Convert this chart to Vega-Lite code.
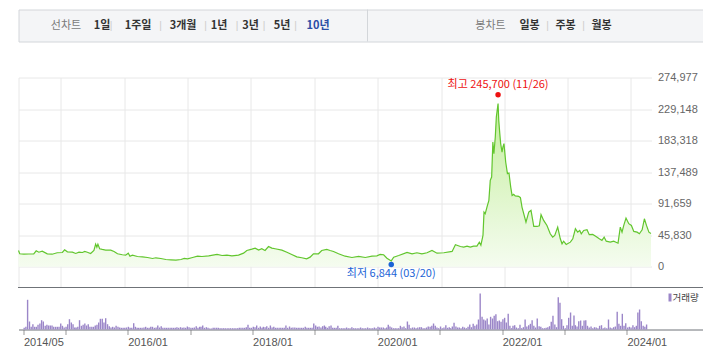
{
  "$schema": "https://vega.github.io/schema/vega-lite/v6.json",
  "padding": {"left": 15.5, "top": 8.5, "right": 0, "bottom": 0},
  "background": "white",
  "config": {"view": {"stroke": null}, "font": "Noto Sans CJK KR"},
  "datasets": {
    "tabs": [
      {"token": "선차트", "text": "선차트", "group": "line", "role": "title"},
      {"token": "1일", "text": "1일", "group": "line", "role": "item"},
      {"token": "s1", "text": "|", "group": "line", "role": "sep"},
      {"token": "1주일", "text": "1주일", "group": "line", "role": "item"},
      {"token": "s2", "text": "|", "group": "line", "role": "sep"},
      {"token": "3개월", "text": "3개월", "group": "line", "role": "item"},
      {"token": "s3", "text": "|", "group": "line", "role": "sep"},
      {"token": "1년", "text": "1년", "group": "line", "role": "item"},
      {"token": "s4", "text": "|", "group": "line", "role": "sep"},
      {"token": "3년", "text": "3년", "group": "line", "role": "item"},
      {"token": "s5", "text": "|", "group": "line", "role": "sep"},
      {"token": "5년", "text": "5년", "group": "line", "role": "item"},
      {"token": "s6", "text": "|", "group": "line", "role": "sep"},
      {"token": "10년", "text": "10년", "group": "line", "role": "active"},
      {"token": "divider", "text": "", "group": "candle", "role": "divider"},
      {"token": "봉차트", "text": "봉차트", "group": "candle", "role": "title"},
      {"token": "일봉", "text": "일봉", "group": "candle", "role": "item"},
      {"token": "t1", "text": "|", "group": "candle", "role": "sep"},
      {"token": "주봉", "text": "주봉", "group": "candle", "role": "item"},
      {"token": "t2", "text": "|", "group": "candle", "role": "sep"},
      {"token": "월봉", "text": "월봉", "group": "candle", "role": "item"}
    ],
    "price": [
      {"date": "2014-05-01", "price": 23700}, {"date": "2014-05-08", "price": 18900}, {"date": "2014-06-01", "price": 18300}, {"date": "2014-06-29", "price": 18600},
      {"date": "2014-07-28", "price": 18900}, {"date": "2014-08-11", "price": 23300}, {"date": "2014-08-26", "price": 21200}, {"date": "2014-09-15", "price": 22700},
      {"date": "2014-10-14", "price": 18900}, {"date": "2014-11-11", "price": 18300}, {"date": "2014-12-10", "price": 20400}, {"date": "2015-01-09", "price": 20800},
      {"date": "2015-01-22", "price": 24700}, {"date": "2015-02-07", "price": 21800}, {"date": "2015-03-08", "price": 21200}, {"date": "2015-03-27", "price": 19400},
      {"date": "2015-04-15", "price": 21200}, {"date": "2015-05-05", "price": 20800}, {"date": "2015-05-18", "price": 22300}, {"date": "2015-06-02", "price": 21200},
      {"date": "2015-06-21", "price": 19400}, {"date": "2015-07-10", "price": 23700}, {"date": "2015-07-20", "price": 32900}, {"date": "2015-07-27", "price": 28500},
      {"date": "2015-08-02", "price": 32900}, {"date": "2015-08-12", "price": 26200}, {"date": "2015-08-27", "price": 25200}, {"date": "2015-09-16", "price": 24200},
      {"date": "2015-10-15", "price": 24200}, {"date": "2015-11-03", "price": 22300}, {"date": "2015-11-23", "price": 18900}, {"date": "2015-12-21", "price": 17500},
      {"date": "2016-01-09", "price": 16900}, {"date": "2016-01-24", "price": 19800}, {"date": "2016-02-03", "price": 15400}, {"date": "2016-02-17", "price": 16900},
      {"date": "2016-03-17", "price": 15000}, {"date": "2016-04-15", "price": 14500}, {"date": "2016-05-14", "price": 13500}, {"date": "2016-06-12", "price": 12100},
      {"date": "2016-07-01", "price": 13100}, {"date": "2016-07-30", "price": 12100}, {"date": "2016-08-28", "price": 10600}, {"date": "2016-09-26", "price": 10200},
      {"date": "2016-10-25", "price": 9600}, {"date": "2016-11-23", "price": 10600}, {"date": "2016-12-12", "price": 12100}, {"date": "2016-12-31", "price": 11600},
      {"date": "2017-01-29", "price": 13500}, {"date": "2017-02-27", "price": 15400}, {"date": "2017-03-24", "price": 15000}, {"date": "2017-05-02", "price": 16000},
      {"date": "2017-06-19", "price": 17900}, {"date": "2017-07-18", "price": 16400}, {"date": "2017-08-15", "price": 16900}, {"date": "2017-09-13", "price": 16000},
      {"date": "2017-10-21", "price": 16900}, {"date": "2017-11-19", "price": 19800}, {"date": "2017-12-08", "price": 23700}, {"date": "2018-01-06", "price": 25600},
      {"date": "2018-01-25", "price": 27100}, {"date": "2018-02-14", "price": 24200}, {"date": "2018-03-04", "price": 26200}, {"date": "2018-03-23", "price": 23700},
      {"date": "2018-04-12", "price": 29500}, {"date": "2018-05-01", "price": 27100}, {"date": "2018-05-20", "price": 26200}, {"date": "2018-06-28", "price": 24200},
      {"date": "2018-07-27", "price": 21200}, {"date": "2018-08-24", "price": 17900}, {"date": "2018-09-22", "price": 14500}, {"date": "2018-10-21", "price": 13100},
      {"date": "2018-11-18", "price": 11600}, {"date": "2018-12-08", "price": 14000}, {"date": "2018-12-27", "price": 18900}, {"date": "2019-01-25", "price": 18900},
      {"date": "2019-02-13", "price": 23700}, {"date": "2019-03-14", "price": 25200}, {"date": "2019-04-02", "price": 23700}, {"date": "2019-04-22", "price": 22300},
      {"date": "2019-05-21", "price": 18900}, {"date": "2019-06-28", "price": 15400}, {"date": "2019-08-06", "price": 13500}, {"date": "2019-09-14", "price": 15000},
      {"date": "2019-10-22", "price": 13500}, {"date": "2019-11-30", "price": 15400}, {"date": "2019-12-28", "price": 16000}, {"date": "2020-01-16", "price": 17900},
      {"date": "2020-02-05", "price": 17500}, {"date": "2020-02-24", "price": 12500}, {"date": "2020-03-20", "price": 8500}, {"date": "2020-04-03", "price": 14000},
      {"date": "2020-05-02", "price": 16400}, {"date": "2020-06-19", "price": 20800}, {"date": "2020-07-18", "price": 18900}, {"date": "2020-08-15", "price": 20400},
      {"date": "2020-09-13", "price": 18900}, {"date": "2020-10-12", "price": 20400}, {"date": "2020-11-10", "price": 23700}, {"date": "2020-12-09", "price": 19800},
      {"date": "2021-01-17", "price": 20400}, {"date": "2021-03-06", "price": 22300}, {"date": "2021-03-25", "price": 32000}, {"date": "2021-04-23", "price": 29500},
      {"date": "2021-05-12", "price": 28500}, {"date": "2021-05-31", "price": 30000}, {"date": "2021-06-19", "price": 28500}, {"date": "2021-07-08", "price": 30000},
      {"date": "2021-07-27", "price": 30000}, {"date": "2021-08-10", "price": 35800}, {"date": "2021-08-19", "price": 31400}, {"date": "2021-08-31", "price": 45500},
      {"date": "2021-09-06", "price": 79400}, {"date": "2021-09-13", "price": 77100}, {"date": "2021-09-23", "price": 86700}, {"date": "2021-10-04", "price": 96500},
      {"date": "2021-10-12", "price": 125600}, {"date": "2021-10-20", "price": 130400}, {"date": "2021-10-27", "price": 181300}, {"date": "2021-11-02", "price": 164400},
      {"date": "2021-11-10", "price": 188600}, {"date": "2021-11-16", "price": 217700}, {"date": "2021-11-26", "price": 237200}, {"date": "2021-11-30", "price": 212900},
      {"date": "2021-12-06", "price": 193500}, {"date": "2021-12-11", "price": 179000}, {"date": "2021-12-19", "price": 166700}, {"date": "2021-12-24", "price": 174000},
      {"date": "2021-12-30", "price": 179000}, {"date": "2022-01-09", "price": 152200}, {"date": "2022-01-19", "price": 135300}, {"date": "2022-01-28", "price": 136200},
      {"date": "2022-02-07", "price": 115800}, {"date": "2022-02-15", "price": 103700}, {"date": "2022-02-24", "price": 105200}, {"date": "2022-03-05", "price": 103000},
      {"date": "2022-03-25", "price": 102300}, {"date": "2022-04-04", "price": 100400}, {"date": "2022-04-13", "price": 86700}, {"date": "2022-05-06", "price": 64900},
      {"date": "2022-05-22", "price": 79400}, {"date": "2022-06-04", "price": 81900}, {"date": "2022-06-20", "price": 58600}, {"date": "2022-07-09", "price": 58600},
      {"date": "2022-07-22", "price": 59700}, {"date": "2022-08-01", "price": 75700}, {"date": "2022-08-16", "price": 67400}, {"date": "2022-09-04", "price": 60100},
      {"date": "2022-09-23", "price": 48000}, {"date": "2022-10-07", "price": 43100}, {"date": "2022-10-19", "price": 45500}, {"date": "2022-11-05", "price": 57600},
      {"date": "2022-11-20", "price": 40700}, {"date": "2022-11-30", "price": 33500}, {"date": "2022-12-09", "price": 37200}, {"date": "2022-12-24", "price": 32400},
      {"date": "2023-01-17", "price": 35800}, {"date": "2023-01-31", "price": 40700}, {"date": "2023-02-15", "price": 55300}, {"date": "2023-02-28", "price": 50300},
      {"date": "2023-03-12", "price": 52800}, {"date": "2023-03-21", "price": 48000}, {"date": "2023-04-04", "price": 52800}, {"date": "2023-04-23", "price": 53800},
      {"date": "2023-05-06", "price": 46600}, {"date": "2023-05-26", "price": 47000}, {"date": "2023-06-14", "price": 44100}, {"date": "2023-07-03", "price": 40700},
      {"date": "2023-07-18", "price": 38300}, {"date": "2023-07-31", "price": 43100}, {"date": "2023-08-12", "price": 37200}, {"date": "2023-09-04", "price": 35800},
      {"date": "2023-09-24", "price": 37200}, {"date": "2023-10-19", "price": 34300}, {"date": "2023-11-01", "price": 57600}, {"date": "2023-11-11", "price": 50300},
      {"date": "2023-11-21", "price": 60100}, {"date": "2023-12-04", "price": 70700}, {"date": "2023-12-20", "price": 62600}, {"date": "2024-01-04", "price": 60100},
      {"date": "2024-01-18", "price": 51400}, {"date": "2024-02-06", "price": 50300}, {"date": "2024-02-19", "price": 48000}, {"date": "2024-03-06", "price": 53800},
      {"date": "2024-03-19", "price": 69800}, {"date": "2024-03-31", "price": 60100}, {"date": "2024-04-14", "price": 50300}, {"date": "2024-04-26", "price": 48500}
    ],
    "extremes": [
      {"date": "2021-11-26", "price": 245700, "kind": "high", "label": "최고 245,700 (11/26)"},
      {"date": "2020-03-20", "price": 6844, "kind": "low", "label": "최저 6,844 (03/20)"}
    ],
    "volume": [
      {"date": "2014-05-05", "volume": 17}, {"date": "2014-05-15", "volume": 27}, {"date": "2014-05-25", "volume": 297},
      {"date": "2014-06-05", "volume": 80}, {"date": "2014-06-15", "volume": 27}, {"date": "2014-06-25", "volume": 53},
      {"date": "2014-07-05", "volume": 27}, {"date": "2014-07-15", "volume": 27}, {"date": "2014-07-25", "volume": 47},
      {"date": "2014-08-05", "volume": 60}, {"date": "2014-08-15", "volume": 93}, {"date": "2014-08-25", "volume": 80},
      {"date": "2014-09-05", "volume": 37}, {"date": "2014-09-15", "volume": 47}, {"date": "2014-09-25", "volume": 40},
      {"date": "2014-10-05", "volume": 40}, {"date": "2014-10-15", "volume": 40}, {"date": "2014-10-25", "volume": 27},
      {"date": "2014-11-05", "volume": 27}, {"date": "2014-11-15", "volume": 27}, {"date": "2014-11-25", "volume": 27},
      {"date": "2014-12-05", "volume": 60}, {"date": "2014-12-15", "volume": 37}, {"date": "2014-12-25", "volume": 20},
      {"date": "2015-01-05", "volume": 27}, {"date": "2015-01-15", "volume": 53}, {"date": "2015-01-25", "volume": 103},
      {"date": "2015-02-05", "volume": 70}, {"date": "2015-02-15", "volume": 53}, {"date": "2015-02-25", "volume": 20},
      {"date": "2015-03-05", "volume": 20}, {"date": "2015-03-15", "volume": 27}, {"date": "2015-03-25", "volume": 93},
      {"date": "2015-04-05", "volume": 37}, {"date": "2015-04-15", "volume": 47}, {"date": "2015-04-25", "volume": 60},
      {"date": "2015-05-05", "volume": 40}, {"date": "2015-05-15", "volume": 53}, {"date": "2015-05-25", "volume": 27},
      {"date": "2015-06-05", "volume": 27}, {"date": "2015-06-15", "volume": 27}, {"date": "2015-06-25", "volume": 40},
      {"date": "2015-07-05", "volume": 47}, {"date": "2015-07-15", "volume": 70}, {"date": "2015-07-25", "volume": 107},
      {"date": "2015-08-05", "volume": 107}, {"date": "2015-08-15", "volume": 70}, {"date": "2015-08-25", "volume": 113},
      {"date": "2015-09-05", "volume": 53}, {"date": "2015-09-15", "volume": 33}, {"date": "2015-09-25", "volume": 20},
      {"date": "2015-10-05", "volume": 27}, {"date": "2015-10-15", "volume": 20}, {"date": "2015-10-25", "volume": 37},
      {"date": "2015-11-05", "volume": 27}, {"date": "2015-11-15", "volume": 20}, {"date": "2015-11-25", "volume": 17},
      {"date": "2015-12-05", "volume": 17}, {"date": "2015-12-15", "volume": 17}, {"date": "2015-12-25", "volume": 20},
      {"date": "2016-01-05", "volume": 27}, {"date": "2016-01-15", "volume": 17}, {"date": "2016-01-25", "volume": 17},
      {"date": "2016-02-05", "volume": 63}, {"date": "2016-02-15", "volume": 27}, {"date": "2016-02-25", "volume": 17},
      {"date": "2016-03-05", "volume": 17}, {"date": "2016-03-15", "volume": 17}, {"date": "2016-03-25", "volume": 17},
      {"date": "2016-04-05", "volume": 20}, {"date": "2016-04-15", "volume": 27}, {"date": "2016-04-25", "volume": 17},
      {"date": "2016-05-05", "volume": 17}, {"date": "2016-05-15", "volume": 27}, {"date": "2016-05-25", "volume": 27},
      {"date": "2016-06-05", "volume": 17}, {"date": "2016-06-15", "volume": 20}, {"date": "2016-06-25", "volume": 40},
      {"date": "2016-07-05", "volume": 20}, {"date": "2016-07-15", "volume": 33}, {"date": "2016-07-25", "volume": 17},
      {"date": "2016-08-05", "volume": 17}, {"date": "2016-08-15", "volume": 17}, {"date": "2016-08-25", "volume": 17},
      {"date": "2016-09-05", "volume": 17}, {"date": "2016-09-15", "volume": 17}, {"date": "2016-09-25", "volume": 17},
      {"date": "2016-10-05", "volume": 17}, {"date": "2016-10-15", "volume": 23}, {"date": "2016-10-25", "volume": 17},
      {"date": "2016-11-05", "volume": 23}, {"date": "2016-11-15", "volume": 17}, {"date": "2016-11-25", "volume": 20},
      {"date": "2016-12-05", "volume": 17}, {"date": "2016-12-15", "volume": 30}, {"date": "2016-12-25", "volume": 23},
      {"date": "2017-01-05", "volume": 17}, {"date": "2017-01-15", "volume": 17}, {"date": "2017-01-25", "volume": 20},
      {"date": "2017-02-05", "volume": 33}, {"date": "2017-02-15", "volume": 17}, {"date": "2017-02-25", "volume": 27},
      {"date": "2017-03-05", "volume": 27}, {"date": "2017-03-15", "volume": 40}, {"date": "2017-03-25", "volume": 17},
      {"date": "2017-04-05", "volume": 23}, {"date": "2017-04-15", "volume": 17}, {"date": "2017-04-25", "volume": 10},
      {"date": "2017-05-05", "volume": 10}, {"date": "2017-05-15", "volume": 17}, {"date": "2017-05-25", "volume": 17},
      {"date": "2017-06-05", "volume": 17}, {"date": "2017-06-15", "volume": 17}, {"date": "2017-06-25", "volume": 13},
      {"date": "2017-07-05", "volume": 13}, {"date": "2017-07-15", "volume": 13}, {"date": "2017-07-25", "volume": 13},
      {"date": "2017-08-05", "volume": 13}, {"date": "2017-08-15", "volume": 13}, {"date": "2017-08-25", "volume": 13},
      {"date": "2017-09-05", "volume": 13}, {"date": "2017-09-15", "volume": 13}, {"date": "2017-09-25", "volume": 13},
      {"date": "2017-10-05", "volume": 13}, {"date": "2017-10-15", "volume": 17}, {"date": "2017-10-25", "volume": 17},
      {"date": "2017-11-05", "volume": 17}, {"date": "2017-11-15", "volume": 17}, {"date": "2017-11-25", "volume": 23},
      {"date": "2017-12-05", "volume": 47}, {"date": "2017-12-15", "volume": 17}, {"date": "2017-12-25", "volume": 17},
      {"date": "2018-01-05", "volume": 27}, {"date": "2018-01-15", "volume": 23}, {"date": "2018-01-25", "volume": 40},
      {"date": "2018-02-05", "volume": 17}, {"date": "2018-02-15", "volume": 30}, {"date": "2018-02-25", "volume": 17},
      {"date": "2018-03-05", "volume": 27}, {"date": "2018-03-15", "volume": 23}, {"date": "2018-03-25", "volume": 33},
      {"date": "2018-04-05", "volume": 17}, {"date": "2018-04-15", "volume": 40}, {"date": "2018-04-25", "volume": 20},
      {"date": "2018-05-05", "volume": 27}, {"date": "2018-05-15", "volume": 17}, {"date": "2018-05-25", "volume": 17},
      {"date": "2018-06-05", "volume": 17}, {"date": "2018-06-15", "volume": 17}, {"date": "2018-06-25", "volume": 17},
      {"date": "2018-07-05", "volume": 17}, {"date": "2018-07-15", "volume": 40}, {"date": "2018-07-25", "volume": 17},
      {"date": "2018-08-05", "volume": 30}, {"date": "2018-08-15", "volume": 17}, {"date": "2018-08-25", "volume": 20},
      {"date": "2018-09-05", "volume": 20}, {"date": "2018-09-15", "volume": 17}, {"date": "2018-09-25", "volume": 17},
      {"date": "2018-10-05", "volume": 17}, {"date": "2018-10-15", "volume": 17}, {"date": "2018-10-25", "volume": 17},
      {"date": "2018-11-05", "volume": 27}, {"date": "2018-11-15", "volume": 17}, {"date": "2018-11-25", "volume": 17},
      {"date": "2018-12-05", "volume": 17}, {"date": "2018-12-15", "volume": 17}, {"date": "2018-12-25", "volume": 60},
      {"date": "2019-01-05", "volume": 40}, {"date": "2019-01-15", "volume": 27}, {"date": "2019-01-25", "volume": 30},
      {"date": "2019-02-05", "volume": 20}, {"date": "2019-02-15", "volume": 33}, {"date": "2019-02-25", "volume": 40},
      {"date": "2019-03-05", "volume": 27}, {"date": "2019-03-15", "volume": 17}, {"date": "2019-03-25", "volume": 33},
      {"date": "2019-04-05", "volume": 40}, {"date": "2019-04-15", "volume": 17}, {"date": "2019-04-25", "volume": 17},
      {"date": "2019-05-05", "volume": 17}, {"date": "2019-05-15", "volume": 37}, {"date": "2019-05-25", "volume": 13},
      {"date": "2019-06-05", "volume": 13}, {"date": "2019-06-15", "volume": 13}, {"date": "2019-06-25", "volume": 13},
      {"date": "2019-07-05", "volume": 20}, {"date": "2019-07-15", "volume": 13}, {"date": "2019-07-25", "volume": 13},
      {"date": "2019-08-05", "volume": 23}, {"date": "2019-08-15", "volume": 13}, {"date": "2019-08-25", "volume": 13},
      {"date": "2019-09-05", "volume": 13}, {"date": "2019-09-15", "volume": 13}, {"date": "2019-09-25", "volume": 20},
      {"date": "2019-10-05", "volume": 13}, {"date": "2019-10-15", "volume": 13}, {"date": "2019-10-25", "volume": 13},
      {"date": "2019-11-05", "volume": 20}, {"date": "2019-11-15", "volume": 13}, {"date": "2019-11-25", "volume": 13},
      {"date": "2019-12-05", "volume": 13}, {"date": "2019-12-15", "volume": 20}, {"date": "2019-12-25", "volume": 13},
      {"date": "2020-01-05", "volume": 27}, {"date": "2020-01-15", "volume": 20}, {"date": "2020-01-25", "volume": 20},
      {"date": "2020-02-05", "volume": 20}, {"date": "2020-02-15", "volume": 13}, {"date": "2020-02-25", "volume": 20},
      {"date": "2020-03-05", "volume": 47}, {"date": "2020-03-15", "volume": 30}, {"date": "2020-03-25", "volume": 20},
      {"date": "2020-04-05", "volume": 13}, {"date": "2020-04-15", "volume": 13}, {"date": "2020-04-25", "volume": 13},
      {"date": "2020-05-05", "volume": 13}, {"date": "2020-05-15", "volume": 37}, {"date": "2020-05-25", "volume": 23},
      {"date": "2020-06-05", "volume": 30}, {"date": "2020-06-15", "volume": 13}, {"date": "2020-06-25", "volume": 80},
      {"date": "2020-07-05", "volume": 47}, {"date": "2020-07-15", "volume": 13}, {"date": "2020-07-25", "volume": 20},
      {"date": "2020-08-05", "volume": 20}, {"date": "2020-08-15", "volume": 13}, {"date": "2020-08-25", "volume": 20},
      {"date": "2020-09-05", "volume": 23}, {"date": "2020-09-15", "volume": 23}, {"date": "2020-09-25", "volume": 13},
      {"date": "2020-10-05", "volume": 13}, {"date": "2020-10-15", "volume": 20}, {"date": "2020-10-25", "volume": 30},
      {"date": "2020-11-05", "volume": 27}, {"date": "2020-11-15", "volume": 37}, {"date": "2020-11-25", "volume": 60},
      {"date": "2020-12-05", "volume": 37}, {"date": "2020-12-15", "volume": 20}, {"date": "2020-12-25", "volume": 13},
      {"date": "2021-01-05", "volume": 30}, {"date": "2021-01-15", "volume": 13}, {"date": "2021-01-25", "volume": 20},
      {"date": "2021-02-05", "volume": 43}, {"date": "2021-02-15", "volume": 17}, {"date": "2021-02-25", "volume": 23},
      {"date": "2021-03-05", "volume": 13}, {"date": "2021-03-15", "volume": 30}, {"date": "2021-03-25", "volume": 67},
      {"date": "2021-04-05", "volume": 30}, {"date": "2021-04-15", "volume": 20}, {"date": "2021-04-25", "volume": 20},
      {"date": "2021-05-05", "volume": 13}, {"date": "2021-05-15", "volume": 27}, {"date": "2021-05-25", "volume": 20},
      {"date": "2021-06-05", "volume": 13}, {"date": "2021-06-15", "volume": 27}, {"date": "2021-06-25", "volume": 50},
      {"date": "2021-07-05", "volume": 23}, {"date": "2021-07-15", "volume": 57}, {"date": "2021-07-25", "volume": 37},
      {"date": "2021-08-05", "volume": 50}, {"date": "2021-08-15", "volume": 100}, {"date": "2021-08-25", "volume": 360},
      {"date": "2021-09-05", "volume": 127}, {"date": "2021-09-15", "volume": 100}, {"date": "2021-09-25", "volume": 90},
      {"date": "2021-10-05", "volume": 110}, {"date": "2021-10-15", "volume": 50}, {"date": "2021-10-25", "volume": 127},
      {"date": "2021-11-05", "volume": 110}, {"date": "2021-11-15", "volume": 137}, {"date": "2021-11-25", "volume": 153},
      {"date": "2021-12-05", "volume": 83}, {"date": "2021-12-15", "volume": 90}, {"date": "2021-12-25", "volume": 77},
      {"date": "2022-01-05", "volume": 103}, {"date": "2022-01-15", "volume": 117}, {"date": "2022-01-25", "volume": 70},
      {"date": "2022-02-05", "volume": 157}, {"date": "2022-02-15", "volume": 37}, {"date": "2022-02-25", "volume": 13},
      {"date": "2022-03-05", "volume": 37}, {"date": "2022-03-15", "volume": 43}, {"date": "2022-03-25", "volume": 20},
      {"date": "2022-04-05", "volume": 13}, {"date": "2022-04-15", "volume": 47}, {"date": "2022-04-25", "volume": 13},
      {"date": "2022-05-05", "volume": 23}, {"date": "2022-05-15", "volume": 100}, {"date": "2022-05-25", "volume": 30},
      {"date": "2022-06-05", "volume": 43}, {"date": "2022-06-15", "volume": 57}, {"date": "2022-06-25", "volume": 93},
      {"date": "2022-07-05", "volume": 37}, {"date": "2022-07-15", "volume": 20}, {"date": "2022-07-25", "volume": 110},
      {"date": "2022-08-05", "volume": 33}, {"date": "2022-08-15", "volume": 27}, {"date": "2022-08-25", "volume": 13},
      {"date": "2022-09-05", "volume": 13}, {"date": "2022-09-15", "volume": 17}, {"date": "2022-09-25", "volume": 23},
      {"date": "2022-10-05", "volume": 33}, {"date": "2022-10-15", "volume": 77}, {"date": "2022-10-25", "volume": 137},
      {"date": "2022-11-05", "volume": 50}, {"date": "2022-11-15", "volume": 23}, {"date": "2022-11-25", "volume": 323},
      {"date": "2022-12-05", "volume": 267}, {"date": "2022-12-15", "volume": 103}, {"date": "2022-12-25", "volume": 37},
      {"date": "2023-01-05", "volume": 13}, {"date": "2023-01-15", "volume": 43}, {"date": "2023-01-25", "volume": 117},
      {"date": "2023-02-05", "volume": 170}, {"date": "2023-02-15", "volume": 37}, {"date": "2023-02-25", "volume": 140},
      {"date": "2023-03-05", "volume": 43}, {"date": "2023-03-15", "volume": 30}, {"date": "2023-03-25", "volume": 83},
      {"date": "2023-04-05", "volume": 90}, {"date": "2023-04-15", "volume": 37}, {"date": "2023-04-25", "volume": 90},
      {"date": "2023-05-05", "volume": 93}, {"date": "2023-05-15", "volume": 37}, {"date": "2023-05-25", "volume": 20},
      {"date": "2023-06-05", "volume": 30}, {"date": "2023-06-15", "volume": 13}, {"date": "2023-06-25", "volume": 23},
      {"date": "2023-07-05", "volume": 20}, {"date": "2023-07-15", "volume": 13}, {"date": "2023-07-25", "volume": 37},
      {"date": "2023-08-05", "volume": 43}, {"date": "2023-08-15", "volume": 13}, {"date": "2023-08-25", "volume": 20},
      {"date": "2023-09-05", "volume": 13}, {"date": "2023-09-15", "volume": 100}, {"date": "2023-09-25", "volume": 20},
      {"date": "2023-10-05", "volume": 13}, {"date": "2023-10-15", "volume": 23}, {"date": "2023-10-25", "volume": 30},
      {"date": "2023-11-05", "volume": 177}, {"date": "2023-11-15", "volume": 57}, {"date": "2023-11-25", "volume": 37},
      {"date": "2023-12-05", "volume": 157}, {"date": "2023-12-15", "volume": 37}, {"date": "2023-12-25", "volume": 63},
      {"date": "2024-01-05", "volume": 20}, {"date": "2024-01-15", "volume": 27}, {"date": "2024-01-25", "volume": 20},
      {"date": "2024-02-05", "volume": 43}, {"date": "2024-02-15", "volume": 23}, {"date": "2024-02-25", "volume": 37},
      {"date": "2024-03-05", "volume": 170}, {"date": "2024-03-15", "volume": 200}, {"date": "2024-03-25", "volume": 83},
      {"date": "2024-04-05", "volume": 37}, {"date": "2024-04-15", "volume": 27}, {"date": "2024-04-25", "volume": 50}
    ]
  },
  "bounds": "flush",
  "spacing": 36,
  "resolve": {"scale": {"color": "independent", "x": "independent"}, "legend": {"color": "independent"}},
  "vconcat": [
    {
      "width": 686,
      "height": 32,
      "view": {"fill": "#f4f5f7", "stroke": "#d3d6da"},
      "data": {"name": "tabs"},
      "resolve": {"scale": {"x": "independent"}},
      "layer": [
        {
          "encoding": {
            "x": {"field": "token", "type": "ordinal", "axis": null,
              "scale": {"type": "point", "padding": 0, "range": [47.5, 299.5],
                "domain": ["선차트", "g1", "g2", "g3", "g4", "g5", "g6", "g7", "1일", "g8", "s1", "g9", "g10", "g11", "g12", "g13", "1주일", "g14", "g15", "g16", "g17", "s2", "g18", "g19", "g20", "g21", "3개월", "g22", "g23", "g24", "g25", "s3", "g26", "g27", "1년", "g28", "g29", "g30", "s4", "g31", "g32", "3년", "g33", "g34", "s5", "g35", "g36", "g37", "5년", "g38", "g39", "s6", "g40", "g41", "g42", "g43", "10년"]}},
            "text": {"field": "text"}
          },
          "layer": [
            {"transform": [{"filter": "datum.group == 'line' && datum.role == 'title'"}],
              "mark": {"type": "text", "font": "Noto Sans CJK KR", "fontSize": 11, "color": "#7a7a7a"}},
            {"transform": [{"filter": "datum.group == 'line' && datum.role == 'item'"}],
              "mark": {"type": "text", "font": "Noto Sans CJK KR", "fontSize": 11, "fontWeight": "bold", "color": "#333333"}},
            {"transform": [{"filter": "datum.group == 'line' && datum.role == 'active'"}],
              "mark": {"type": "text", "font": "Noto Sans CJK KR", "fontSize": 11, "fontWeight": "bold", "color": "#2c4ea6"}},
            {"transform": [{"filter": "datum.group == 'line' && datum.role == 'sep'"}],
              "mark": {"type": "text", "font": "Liberation Sans", "fontSize": 10, "color": "#cccccc"}}
          ]
        },
        {
          "encoding": {
            "x": {"field": "token", "type": "ordinal", "axis": null,
              "scale": {"type": "point", "padding": 0, "range": [349, 583],
                "domain": ["divider", "h1", "h2", "h3", "h4", "h5", "h6", "봉차트", "h7", "일봉", "t1", "주봉", "t2", "월봉"]}}
          },
          "layer": [
            {"transform": [{"filter": "datum.group == 'candle' && datum.role == 'divider'"}],
              "mark": {"type": "rule", "color": "#d3d6da"}},
            {"transform": [{"filter": "datum.group == 'candle' && datum.role == 'title'"}],
              "mark": {"type": "text", "font": "Noto Sans CJK KR", "fontSize": 11, "color": "#7a7a7a", "dx": -3},
              "encoding": {"text": {"field": "text"}}},
            {"transform": [{"filter": "datum.group == 'candle' && datum.role == 'item'"}],
              "mark": {"type": "text", "font": "Noto Sans CJK KR", "fontSize": 11, "fontWeight": "bold", "color": "#333333"},
              "encoding": {"text": {"field": "text"}}},
            {"transform": [{"filter": "datum.group == 'candle' && datum.role == 'sep'"}],
              "mark": {"type": "text", "font": "Liberation Sans", "fontSize": 10, "color": "#cccccc"},
              "encoding": {"text": {"field": "text"}}}
          ]
        }
      ]
    },
    {
      "bounds": "flush",
      "spacing": 0,
      "resolve": {"scale": {"color": "independent", "x": "independent"}, "legend": {"color": "independent"}},
      "vconcat": [
        {
          "width": 633,
          "height": 210,
          "encoding": {
            "x": {"field": "date", "type": "temporal",
              "scale": {"type": "utc", "domain": [{"year": 2014, "month": 5, "date": 1, "utc": true}, {"year": 2024, "month": 4, "date": 29, "utc": true}]},
              "axis": {"title": null, "labels": false, "ticks": false, "domain": false, "grid": true, "gridColor": "#e8e8e8",
                "values": [
                  {"year": 2014, "month": 5, "date": 1, "utc": true}, {"year": 2015, "month": 1, "date": 1, "utc": true},
                  {"year": 2016, "month": 1, "date": 1, "utc": true}, {"year": 2017, "month": 1, "date": 1, "utc": true},
                  {"year": 2018, "month": 1, "date": 1, "utc": true}, {"year": 2019, "month": 1, "date": 1, "utc": true},
                  {"year": 2020, "month": 1, "date": 1, "utc": true}, {"year": 2021, "month": 1, "date": 1, "utc": true},
                  {"year": 2022, "month": 1, "date": 1, "utc": true}, {"year": 2023, "month": 1, "date": 1, "utc": true},
                  {"year": 2024, "month": 1, "date": 1, "utc": true}]}},
            "y": {"field": "price", "type": "quantitative",
              "scale": {"domain": [-30069, 274977], "nice": false, "zero": false},
              "axis": {"title": null, "orient": "right", "values": [0, 45830, 91659, 137489, 183318, 229148, 274977], "format": ",d",
                "grid": true, "gridColor": "#e8e8e8", "domain": false, "ticks": false, "labelPadding": 6,
                "labelFont": "Liberation Sans", "labelFontSize": 11, "labelColor": "#666666"}}
          },
          "layer": [
            {"data": {"name": "price"},
              "mark": {"type": "area", "color": {"x1": 0, "y1": 0, "x2": 0, "y2": 1, "gradient": "linear",
                "stops": [{"offset": 0, "color": "#c4ee9c"}, {"offset": 1, "color": "#f5fcf0"}]}}},
            {"data": {"name": "price"},
              "mark": {"type": "line", "color": "#62c62e", "strokeWidth": 1.2}},
            {"data": {"name": "extremes"}, "transform": [{"filter": "datum.kind == 'high'"}],
              "mark": {"type": "point", "filled": true, "opacity": 1, "size": 30, "color": "#ee1111", "yOffset": -3}},
            {"data": {"name": "extremes"}, "transform": [{"filter": "datum.kind == 'high'"}],
              "mark": {"type": "text", "font": "Noto Sans CJK KR", "fontSize": 11, "color": "#ee1111", "dy": -13},
              "encoding": {"text": {"field": "label"}}},
            {"data": {"name": "extremes"}, "transform": [{"filter": "datum.kind == 'low'"}],
              "mark": {"type": "point", "filled": true, "opacity": 1, "size": 30, "color": "#1b63d6", "yOffset": 2.5}},
            {"data": {"name": "extremes"}, "transform": [{"filter": "datum.kind == 'low'"}],
              "mark": {"type": "text", "font": "Noto Sans CJK KR", "fontSize": 11, "color": "#1b63d6", "dy": 12},
              "encoding": {"text": {"field": "label"}}}
          ]
        },
        {
          "width": 686,
          "height": 42,
          "data": {"name": "volume"},
          "resolve": {"legend": {"color": "independent"}},
          "layer": [
            {
              "mark": {"type": "bar", "width": 1.4},
              "encoding": {
                "x": {"field": "date", "type": "temporal",
                  "scale": {"type": "utc", "domain": [{"year": 2014, "month": 5, "date": 1, "utc": true}, {"year": 2025, "month": 2, "date": 28, "hours": 16, "minutes": 48, "utc": true}]},
                  "axis": {"title": null, "orient": "bottom", "grid": false, "domainColor": "#6f7378", "tickColor": "#999999", "tickSize": 5,
                    "labelAlign": "left", "labelFlush": false, "labelOverlap": false, "labelPadding": 2,
                    "labelFont": "Liberation Sans", "labelFontSize": 11, "labelColor": "#555555",
                    "labelExpr": "utcyear(datum.value) % 2 == 0 ? utcFormat(datum.value, '%Y/%m') : ''",
                    "values": [
                      {"year": 2014, "month": 5, "date": 1, "utc": true}, {"year": 2015, "month": 1, "date": 1, "utc": true},
                      {"year": 2016, "month": 1, "date": 1, "utc": true}, {"year": 2017, "month": 1, "date": 1, "utc": true},
                      {"year": 2018, "month": 1, "date": 1, "utc": true}, {"year": 2019, "month": 1, "date": 1, "utc": true},
                      {"year": 2020, "month": 1, "date": 1, "utc": true}, {"year": 2021, "month": 1, "date": 1, "utc": true},
                      {"year": 2022, "month": 1, "date": 1, "utc": true}, {"year": 2023, "month": 1, "date": 1, "utc": true},
                      {"year": 2024, "month": 1, "date": 1, "utc": true}]}},
                "y": {"field": "volume", "type": "quantitative", "scale": {"domain": [0, 420], "nice": false}, "axis": null},
                "color": {"datum": "거래량", "type": "nominal", "scale": {"range": ["#9b86c8"]},
                  "legend": {"title": null, "orient": "top-right", "offset": 5, "padding": 0,
                    "symbolType": "M0.25,-1H1V1H0.25Z", "symbolSize": 64, "labelOffset": 0,
                    "labelFont": "Noto Sans CJK KR", "labelFontSize": 9.5, "labelColor": "#444444"}}
              }
            },
            {
              "mark": {"type": "rule", "color": "#6f7378", "strokeWidth": 1},
              "encoding": {"y": {"datum": 420, "type": "quantitative"}}
            }
          ]
        }
      ]
    }
  ]
}
